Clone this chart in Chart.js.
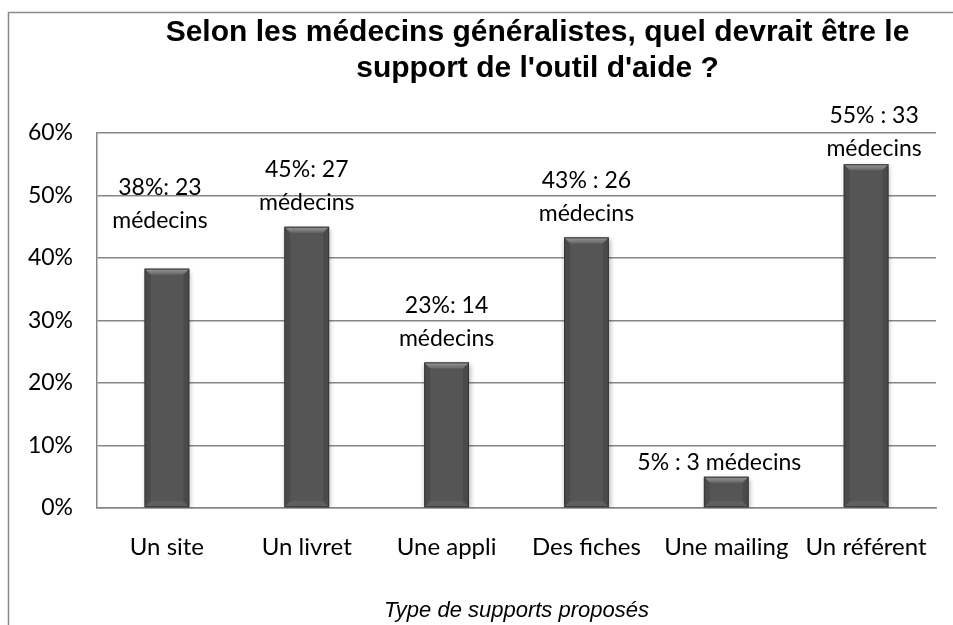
<!DOCTYPE html>
<html>
<head>
<meta charset="utf-8">
<script src="https://cdn.jsdelivr.net/npm/chart.js@4"></script>
<style>
  body { margin: 0; background: #fff; }
  #wrap { width: 953px; height: 625px; }
</style>
</head>
<body>
<div id="wrap"><canvas id="barChart" width="953" height="625"></canvas></div>
<script>
// Data
const categories = ['Un site', 'Un livret', 'Une appli', 'Des fiches', 'Une mailing', 'Un référent'];
const doctorCounts = [23, 27, 14, 26, 3, 33];
const percents = [38.3, 45, 23.3, 43.3, 5, 55];
const valueLabels = [
    ['38%: 23', 'médecins'],
    ['45%: 27', 'médecins'],
    ['23%: 14', 'médecins'],
    ['43% : 26', 'médecins'],
    ['5% : 3 médecins'],
    ['55% : 33', 'médecins']
];
const yTicks = [0, 10, 20, 30, 40, 50, 60];
const titleLines = ['Selon les médecins généralistes, quel devrait être le', "support de l'outil d'aide ?"];
const xTitle = 'Type de supports proposés';

const labelFont = '23px Lato, "Open Sans", sans-serif';

// outer frame like the spreadsheet chart border
const framePlugin = {
    id: 'frame',
    beforeDraw(chart) {
        const ctx = chart.ctx;
        ctx.save();
        ctx.strokeStyle = '#8a8a8a';
        ctx.lineWidth = 1.5;
        ctx.strokeRect(8.5, 12.5, 960, 700);
        ctx.restore();
    }
};

// shift title centre to the right like the original
const titleShift = {
    id: 'titleShift',
    afterLayout(chart) {
        chart.titleBlock.left = 122;
        chart.titleBlock.right = 953;
    }
};

// shadow + bevel on bars
const bevelPlugin = {
    id: 'bevel',
    beforeDatasetsDraw(chart) {
        const ctx = chart.ctx;
        ctx.save();
        ctx.shadowColor = 'rgba(0,0,0,0.35)';
        ctx.shadowBlur = 5;
        ctx.shadowOffsetX = 1;
        ctx.shadowOffsetY = 2;
    },
    afterDatasetsDraw(chart) {
        const ctx = chart.ctx;
        ctx.restore();
        const meta = chart.getDatasetMeta(0);
        const b = 6;
        ctx.save();
        meta.data.forEach(bar => {
            const L = bar.x - bar.width / 2, R = bar.x + bar.width / 2;
            const T = bar.y, B = bar.base;
            const bb = Math.min(b, (B - T) / 2);
            let g = ctx.createLinearGradient(0, T, 0, T + bb);
            g.addColorStop(0, '#9a9a9a');
            g.addColorStop(1, '#666666');
            ctx.fillStyle = g;
            ctx.beginPath();
            ctx.moveTo(L, T); ctx.lineTo(R, T); ctx.lineTo(R - bb, T + bb); ctx.lineTo(L + bb, T + bb);
            ctx.closePath(); ctx.fill();
            // side shading
            ctx.fillStyle = 'rgba(0,0,0,0.12)';
            ctx.beginPath();
            ctx.moveTo(L, T); ctx.lineTo(L + bb, T + bb); ctx.lineTo(L + bb, B - bb); ctx.lineTo(L, B);
            ctx.closePath(); ctx.fill();
            ctx.beginPath();
            ctx.moveTo(R, T); ctx.lineTo(R - bb, T + bb); ctx.lineTo(R - bb, B - bb); ctx.lineTo(R, B);
            ctx.closePath(); ctx.fill();
            ctx.fillStyle = 'rgba(255,255,255,0.06)';
            ctx.beginPath();
            ctx.moveTo(L, B); ctx.lineTo(R, B); ctx.lineTo(R - bb, B - bb); ctx.lineTo(L + bb, B - bb);
            ctx.closePath(); ctx.fill();
            ctx.strokeStyle = '#363636';
            ctx.lineWidth = 1;
            ctx.strokeRect(L + 0.5, T + 0.5, bar.width - 1, B - T - 1);
        });
        ctx.restore();
    }
};

// value labels above bars
const valueLabelPlugin = {
    id: 'valueLabels',
    afterDatasetsDraw(chart, args, opts) {
        const ctx = chart.ctx;
        const meta = chart.getDatasetMeta(0);
        ctx.save();
        ctx.font = labelFont;
        ctx.fillStyle = '#000';
        ctx.textAlign = 'center';
        ctx.textBaseline = 'middle';
        meta.data.forEach((bar, i) => {
            const lines = valueLabels[i];
            const lift = (opts.lift[i] || 0);
            let y = bar.y - opts.gap - lift;
            for (let k = lines.length - 1; k >= 0; k--) {
                ctx.fillText(lines[k], bar.x + (opts.dx[i] || 0), y);
                y -= opts.lineHeight;
            }
        });
        ctx.restore();
    }
};

new Chart(document.getElementById('barChart'), {
    type: 'bar',
    data: {
        labels: categories,
        datasets: [{
            label: 'Médecins (%)',
            data: percents,
            backgroundColor: '#555555',
            borderWidth: 0,
            barPercentage: 0.32,
            categoryPercentage: 1
        }]
    },
    options: {
        responsive: false,
        animation: false,
        layout: { padding: { left: 0, right: 17, top: 0, bottom: 0 } },
        plugins: {
            legend: { display: false },
            tooltip: { enabled: false },
            title: {
                display: true,
                text: titleLines,
                color: '#000',
                font: { family: '"Liberation Sans", Arial, sans-serif', size: 30, weight: 'bold', lineHeight: '36px' },
                padding: { top: 15, bottom: 46 }
            },
            valueLabels: {
                gap: 24,
                lineHeight: 33,
                lift: [24, 0, 0, 0, -10, -8],
                dx: [-7, 0, 0, 0, -7, 8]
            }
        },
        scales: {
            x: {
                grid: { display: false },
                border: { display: true, color: '#868686', width: 1.5 },
                ticks: { color: '#000', font: { family: 'Lato, "Open Sans", sans-serif', size: 24 }, padding: 17 },
                title: {
                    display: true,
                    text: xTitle,
                    color: '#000',
                    font: { family: '"Liberation Sans", Arial, sans-serif', size: 22, style: 'italic' },
                    padding: { top: 0, bottom: 1 }
                },
                afterFit(scale) { scale.height = 117; }
            },
            y: {
                min: 0,
                max: 60,
                afterBuildTicks(scale) { scale.ticks = yTicks.map(v => ({ value: v })); },
                grid: { color: '#868686', lineWidth: 1.5, drawTicks: false },
                border: { display: true, color: '#868686', width: 1.5 },
                ticks: {
                    color: '#000',
                    font: { family: 'Lato, "Open Sans", sans-serif', size: 23 },
                    padding: 24,
                    callback: v => v + '%'
                },
                afterFit(scale) { scale.width = 97; }
            }
        }
    },
    plugins: [framePlugin, titleShift, bevelPlugin, valueLabelPlugin]
});
</script>
</body>
</html>
